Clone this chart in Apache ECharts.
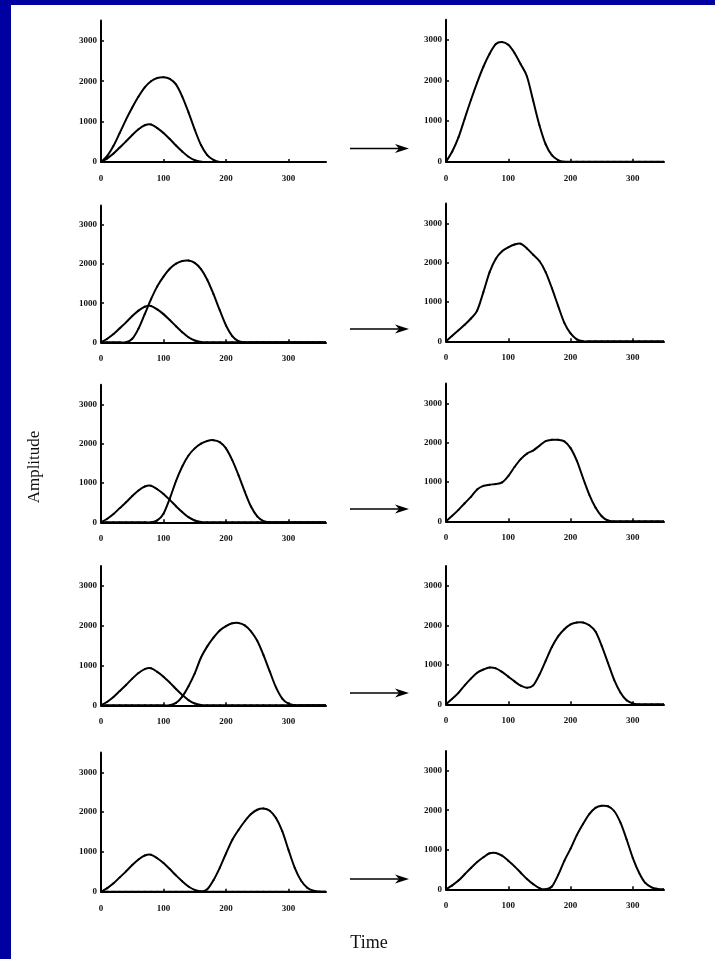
<!DOCTYPE html>
<html>
<head>
<meta charset="utf-8">
<script src="https://cdn.jsdelivr.net/npm/echarts@6/dist/echarts.min.js"></script>
<style>
  html, body { margin: 0; padding: 0; background: #fff; }
  #chart { width: 715px; height: 959px; }
</style>
</head>
<body>
<div id="chart"></div>
<script>
// Sample times (every 10 units, 0..360)
const time = [0,10,20,30,40,50,60,70,80,90,100,110,120,130,140,150,160,170,180,
              190,200,210,220,230,240,250,260,270,280,290,300,310,320,330,340,350,360];

// Tick labels
const xTicks = [0, 100, 200, 300];
const yTicks = [0, 1000, 2000, 3000];

// First (small) pulse, the same in every left-hand panel
const firstPulse = [0,90,210,360,510,670,810,910,930,840,720,570,410,260,130,45,8,0,0,
                    0,0,0,0,0,0,0,0,0,0,0,0,0,0,0,0,0,0];

// Second (large) pulse, arriving later in each row
const secondPulse1 = [0,150,400,720,1050,1350,1620,1850,2000,2080,2100,2060,1920,1620,1230,800,420,170,50,
                      0,0,0,0,0,0,0,0,0,0,0,0,0,0,0,0,0,0];
const secondPulse2 = [0,0,0,0,0,90,350,720,1100,1430,1680,1880,2010,2080,2090,2030,1870,1600,1230,
                      820,430,160,30,0,0,0,0,0,0,0,0,0,0,0,0,0,0];
const secondPulse3 = [0,0,0,0,0,0,0,0,0,50,220,600,1050,1420,1700,1880,2000,2070,2090,
                      2040,1880,1580,1200,780,400,150,30,0,0,0,0,0,0,0,0,0,0];
const secondPulse4 = [0,0,0,0,0,0,0,0,0,0,0,0,60,220,480,800,1200,1480,1700,
                      1880,1990,2060,2070,2010,1860,1620,1260,850,450,170,40,0,0,0,0,0,0];
const secondPulse5 = [0,0,0,0,0,0,0,0,0,0,0,0,0,0,0,0,0,60,290,
                      600,960,1300,1550,1770,1950,2060,2090,2035,1850,1520,1050,600,280,100,25,0,0];

// Combined response in each row
const combined1 = [0,250,600,1060,1520,1950,2340,2660,2900,2950,2880,2680,2400,2100,1500,900,430,160,40,
                   0,0,0,0,0,0,0,0,0,0,0,0,0,0,0,0,0,0];
const combined2 = [0,140,280,420,580,780,1250,1760,2100,2290,2390,2460,2480,2360,2200,2040,1760,1350,900,
                   470,200,50,0,0,0,0,0,0,0,0,0,0,0,0,0,0,0];
const combined3 = [0,140,290,460,620,810,900,930,950,990,1150,1380,1580,1720,1800,1920,2040,2070,2070,
                   2030,1860,1540,1100,680,350,130,20,0,0,0,0,0,0,0,0,0,0];
const combined4 = [0,140,290,480,650,800,880,930,910,820,700,580,470,420,480,750,1100,1450,1720,
                   1900,2020,2070,2070,2000,1840,1480,1050,620,300,100,20,0,0,0,0,0,0];
const combined5 = [0,100,220,380,540,690,810,910,920,850,720,580,420,260,130,30,0,70,360,
                   720,1030,1370,1650,1900,2060,2110,2100,1980,1690,1260,790,420,160,50,10,0,0];

const secondPulses = [secondPulse1, secondPulse2, secondPulse3, secondPulse4, secondPulse5];
const combined = [combined1, combined2, combined3, combined4, combined5];

// Panel layout (pixels)
const leftTops = [20.6, 205.4, 384.7, 566, 752.4];
const leftHeights = [141.4, 136.9, 137.6, 139.3, 139.3];
const rightTops = [19.7, 203.6, 383.6, 566, 750.9];
const rightHeights = [142, 137.7, 137.7, 138.3, 138.4];
const arrowYs = [148.5, 329, 509, 693, 879];

const INK = '#000';
const labelFont = { fontFamily: 'Liberation Serif', fontSize: 9, fontWeight: 'bold', color: '#111' };

function pairs(values) {
  return time.map((t, i) => [t, values[i]]);
}

// Draws the segment between sample i and i+1 as a Catmull-Rom cubic,
// with every point placed through the axes via api.coord.
function renderCurveSegment(params, api) {
  const i = params.dataIndexInside;
  const n = params.dataInsideLength;
  if (i >= n - 1) return null;
  const pt = k => {
    const j = Math.max(0, Math.min(n - 1, k));
    return api.coord([api.value(0, j), api.value(1, j)]);
  };
  const p0 = pt(i - 1), p1 = pt(i), p2 = pt(i + 1), p3 = pt(i + 2);
  return {
    type: 'bezierCurve',
    shape: {
      x1: p1[0], y1: p1[1], x2: p2[0], y2: p2[1],
      cpx1: p1[0] + (p2[0] - p0[0]) / 6, cpy1: p1[1] + (p2[1] - p0[1]) / 6,
      cpx2: p2[0] - (p3[0] - p1[0]) / 6, cpy2: p2[1] - (p3[1] - p1[1]) / 6
    },
    style: { stroke: INK, lineWidth: 2, fill: null, lineCap: 'round' },
    silent: true
  };
}

const grids = [], xAxes = [], yAxes = [], series = [];

function addPanel(left, top, width, height, xMax, lines) {
  const idx = grids.length;
  grids.push({ left: left, top: top, width: width, height: height, containLabel: false });
  xAxes.push({
    gridIndex: idx, type: 'value', min: 0, max: xMax,
    axisLine: { show: true, onZero: false, lineStyle: { color: INK, width: 2 } },
    axisTick: { show: true, inside: true, length: 3, customValues: xTicks, lineStyle: { color: INK, width: 1.5 } },
    axisLabel: Object.assign({ customValues: xTicks, margin: 12, formatter: v => String(v) }, labelFont),
    splitLine: { show: false }
  });
  yAxes.push({
    gridIndex: idx, type: 'value', min: 0, max: 3500, interval: 500,
    axisLine: { show: true, onZero: false, lineStyle: { color: INK, width: 2 } },
    axisTick: { show: true, inside: true, length: 3, customValues: yTicks, lineStyle: { color: INK, width: 1.5 } },
    axisLabel: Object.assign({ customValues: yTicks, margin: 4, formatter: v => String(v) }, labelFont),
    splitLine: { show: false }
  });
  lines.forEach(vals => {
    series.push({
      type: 'custom', xAxisIndex: idx, yAxisIndex: idx,
      data: pairs(vals), encode: { x: 0, y: 1 },
      renderItem: renderCurveSegment, clip: true, silent: true, z: 3
    });
  });
}

for (let r = 0; r < 5; r++) {
  addPanel(101, leftTops[r], 225, leftHeights[r], 360, [firstPulse, secondPulses[r]]);
  addPanel(446, rightTops[r], 218, rightHeights[r], 350, [combined[r]]);
}

// Frame, arrows and axis titles
const graphics = [
  { type: 'rect', shape: { x: 0, y: 0, width: 11, height: 959 }, style: { fill: '#0000a0' } },
  { type: 'rect', shape: { x: 0, y: 0, width: 715, height: 5 }, style: { fill: '#0000a0' } },
  { type: 'text', x: 35, y: 467, rotation: Math.PI / 2,
    style: { text: 'Amplitude', fontSize: 17, fontFamily: 'Liberation Serif', fill: '#111',
             textAlign: 'center', textVerticalAlign: 'middle', align: 'center', verticalAlign: 'middle' } },
  { type: 'text', x: 369, y: 943,
    style: { text: 'Time', fontSize: 18, fontFamily: 'Liberation Serif', fill: '#111',
             textAlign: 'center', textVerticalAlign: 'middle', align: 'center', verticalAlign: 'middle' } }
];
arrowYs.forEach(y => {
  graphics.push({ type: 'line', shape: { x1: 350, y1: y, x2: 402, y2: y }, style: { stroke: INK, lineWidth: 1.5 } });
  graphics.push({ type: 'polygon', shape: { points: [[409, y], [395, y - 4.5], [399, y], [395, y + 4.5]] }, style: { fill: INK } });
});

const chart = echarts.init(document.getElementById('chart'), null, { renderer: 'canvas' });
chart.setOption({
  backgroundColor: '#fff',
  animation: false,
  graphic: graphics,
  grid: grids,
  xAxis: xAxes,
  yAxis: yAxes,
  series: series
});
</script>
</body>
</html>
